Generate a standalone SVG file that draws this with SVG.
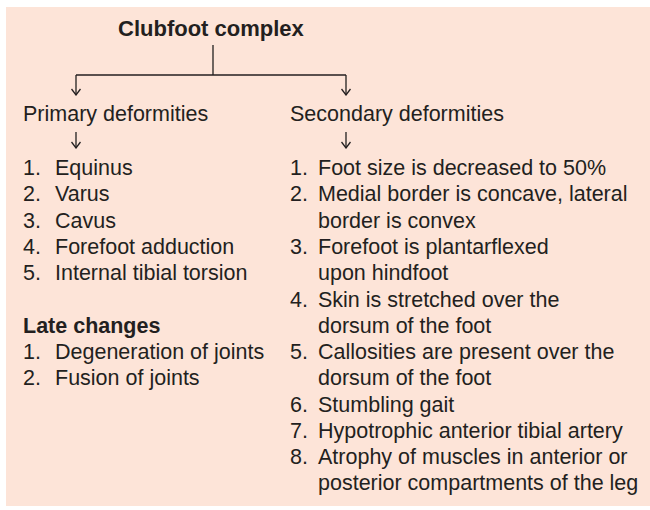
<svg xmlns="http://www.w3.org/2000/svg" width="650" height="510" viewBox="0 0 650 510">
<style>
text{font-family:"Liberation Sans",Arial,Helvetica,sans-serif;font-size:21.5px;fill:#231f20}
.b{font-weight:bold;font-size:22px}
.ln{stroke:#231f20;stroke-width:1.3;fill:none}
</style>
<defs>
<marker id="ah" viewBox="0 0 10 10" refX="9" refY="5" markerWidth="10" markerHeight="10" markerUnits="userSpaceOnUse" orient="auto">
<path d="M3,0.5 L9,5 L3,9.5" fill="none" stroke="#231f20" stroke-width="1.3"/>
</marker>
</defs>
<rect x="6" y="7" width="650" height="499" fill="#fde4d8"/>
<g id="title"><text class="b" x="118" y="36">Clubfoot complex</text></g>
<g id="connectors">
<path class="ln" d="M213,45 V75"/>
<path class="ln" d="M76,75 H346"/>
<path class="ln" d="M76,75 V95" marker-end="url(#ah)"/>
<path class="ln" d="M346,75 V95" marker-end="url(#ah)"/>
<path class="ln" d="M76,132 V148" marker-end="url(#ah)"/>
<path class="ln" d="M346,132 V148" marker-end="url(#ah)"/>
</g>
<g id="primary">
<text x="23" y="121">Primary deformities</text>
<text x="23" y="175">1.</text><text x="55" y="175">Equinus</text>
<text x="23" y="201">2.</text><text x="55" y="201">Varus</text>
<text x="23" y="228">3.</text><text x="55" y="228">Cavus</text>
<text x="23" y="254">4.</text><text x="55" y="254">Forefoot adduction</text>
<text x="23" y="280">5.</text><text x="55" y="280">Internal tibial torsion</text>
</g>
<g id="late">
<text class="b" x="23" y="333" style="font-size:21.5px">Late changes</text>
<text x="23" y="359">1.</text><text x="55" y="359">Degeneration of joints</text>
<text x="23" y="385">2.</text><text x="55" y="385">Fusion of joints</text>
</g>
<g id="secondary">
<text x="290" y="121">Secondary deformities</text>
<text x="290" y="175">1.</text><text x="318" y="175">Foot size is decreased to 50%</text>
<text x="290" y="201">2.</text><text x="318" y="201">Medial border is concave, lateral</text>
<text x="318" y="228">border is convex</text>
<text x="290" y="254">3.</text><text x="318" y="254">Forefoot is plantarflexed</text>
<text x="318" y="280">upon hindfoot</text>
<text x="290" y="307">4.</text><text x="318" y="307">Skin is stretched over the</text>
<text x="318" y="333">dorsum of the foot</text>
<text x="290" y="359">5.</text><text x="318" y="359">Callosities are present over the</text>
<text x="318" y="385">dorsum of the foot</text>
<text x="290" y="412">6.</text><text x="318" y="412">Stumbling gait</text>
<text x="290" y="438">7.</text><text x="318" y="438">Hypotrophic anterior tibial artery</text>
<text x="290" y="464">8.</text><text x="318" y="464">Atrophy of muscles in anterior or</text>
<text x="318" y="490">posterior compartments of the leg</text>
</g>
</svg>
